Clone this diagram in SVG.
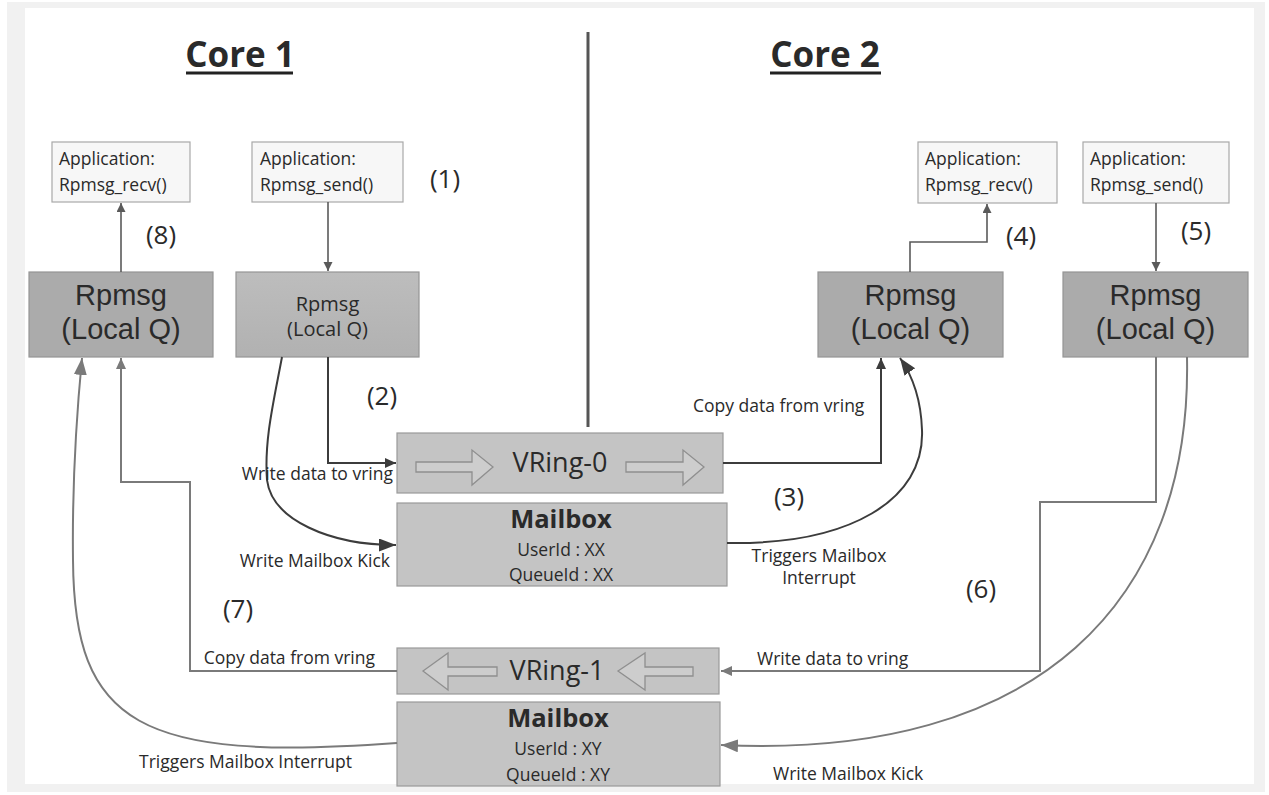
<svg xmlns="http://www.w3.org/2000/svg" width="1269" height="795" viewBox="0 0 1269 795">
<style>
text{font-family:"Open Sans","Liberation Sans",Arial,sans-serif;fill:#2a2a2a}
.app{fill:#f7f7f7;stroke:#a8a8a8;stroke-width:1.2}
.rp{fill:#ababab;stroke:#959595;stroke-width:1.2}
.rp2{fill:url(#g2);stroke:#959595;stroke-width:1.2}
.vr{fill:#c4c4c4;stroke:#9a9a9a;stroke-width:1.2}
.ba{fill:#cdcdcd;stroke:#8f8f8f;stroke-width:1.3}
.at{font-size:17.5px}
.big{font-family:"Liberation Sans",Arial,sans-serif;font-size:29px;text-anchor:middle}
.sm{font-size:20px;text-anchor:middle}
.lbl{font-size:17.5px}
.num{font-size:26px;text-anchor:middle}
.cd{fill:none;stroke:#3c3c3c;stroke-width:2}
.cg{fill:none;stroke:#7a7a7a;stroke-width:2}
.ca{fill:none;stroke:#5a5a5a;stroke-width:1.6}
</style>
<defs>
<linearGradient id="g2" x1="0" y1="0" x2="0" y2="1"><stop offset="0" stop-color="#bdbdbd"/><stop offset="1" stop-color="#b1b1b1"/></linearGradient>
<marker id="aS" markerUnits="userSpaceOnUse" markerWidth="10" markerHeight="10" refX="9" refY="4.5" orient="auto"><path d="M0,0 L9,4.5 L0,9 z" fill="#5a5a5a"/></marker>
<marker id="aD" markerUnits="userSpaceOnUse" markerWidth="12" markerHeight="12" refX="11" refY="5" orient="auto"><path d="M0,0 L11,5 L0,10 z" fill="#3c3c3c"/></marker>
<marker id="aG" markerUnits="userSpaceOnUse" markerWidth="12" markerHeight="12" refX="11" refY="5" orient="auto"><path d="M0,0 L11,5 L0,10 z" fill="#7a7a7a"/></marker>
<marker id="aBD" markerUnits="userSpaceOnUse" markerWidth="18" markerHeight="14" refX="17" refY="6.5" orient="auto"><path d="M0,0 L17,6.5 L0,13 z" fill="#3c3c3c"/></marker>
<marker id="aBG" markerUnits="userSpaceOnUse" markerWidth="18" markerHeight="14" refX="17" refY="6.5" orient="auto"><path d="M0,0 L17,6.5 L0,13 z" fill="#7a7a7a"/></marker>
</defs>
<rect width="1269" height="795" fill="#ffffff"/>
<g id="frame" fill="#f1f1f1">
<rect x="7" y="2" width="1258" height="6"/>
<rect x="7" y="2" width="18" height="790"/>
<rect x="1254" y="2" width="11" height="790"/>
<rect x="7" y="784" width="1258" height="8"/>
</g>
<g id="titles">
<text x="240" y="67" font-size="35" font-weight="bold" text-anchor="middle" fill="#111">Core 1</text>
<rect x="186" y="71.5" width="107" height="3" fill="#222"/>
<text x="825" y="67" font-size="35" font-weight="bold" text-anchor="middle" fill="#111">Core 2</text>
<rect x="770" y="71.5" width="111" height="3" fill="#222"/>
<line x1="588" y1="32" x2="588" y2="427" stroke="#555" stroke-width="3"/>
</g>
<g id="app1"><rect class="app" x="52" y="142" width="138" height="60"/><text class="at" x="59" y="165">Application:</text><text class="at" x="59" y="191">Rpmsg_recv()</text></g>
<g id="app2"><rect class="app" x="252" y="142" width="151" height="60"/><text class="at" x="260" y="165">Application:</text><text class="at" x="260" y="191">Rpmsg_send()</text></g>
<g id="app3"><rect class="app" x="918" y="142" width="139" height="61"/><text class="at" x="925" y="165">Application:</text><text class="at" x="925" y="191">Rpmsg_recv()</text></g>
<g id="app4"><rect class="app" x="1083" y="142" width="146" height="61"/><text class="at" x="1090" y="165">Application:</text><text class="at" x="1090" y="191">Rpmsg_send()</text></g>
<g id="rpmsg1"><rect class="rp" x="29" y="272" width="184" height="85"/><text class="big" x="121" y="305">Rpmsg</text><text class="big" x="121" y="339">(Local Q)</text></g>
<g id="rpmsg2"><rect class="rp2" x="236" y="272" width="183" height="85"/><text class="sm" x="327.5" y="311">Rpmsg</text><text class="sm" x="327.5" y="336">(Local Q)</text></g>
<g id="rpmsg3"><rect class="rp" x="818" y="272" width="185" height="85"/><text class="big" x="910.5" y="305">Rpmsg</text><text class="big" x="910.5" y="339">(Local Q)</text></g>
<g id="rpmsg4"><rect class="rp" x="1063" y="272" width="185" height="85"/><text class="big" x="1155.5" y="305">Rpmsg</text><text class="big" x="1155.5" y="339">(Local Q)</text></g>
<g id="vring0"><rect class="vr" x="397" y="433" width="326" height="60"/>
<path class="ba" d="M416,462 H472 V450 L493,467 L472,485 V472 H416 Z"/>
<path class="ba" d="M626,462 H683 V450 L704,467 L683,485 V472 H626 Z"/>
<text x="560" y="472" font-size="27" text-anchor="middle">VRing-0</text></g>
<g id="mailbox0"><rect class="vr" x="397" y="503" width="330" height="83"/>
<text x="561" y="528" font-size="25.5" font-weight="bold" text-anchor="middle" fill="#111">Mailbox</text>
<text x="561" y="556" font-size="17.5" text-anchor="middle">UserId : XX</text>
<text x="561" y="581" font-size="17.5" text-anchor="middle">QueueId : XX</text></g>
<g id="vring1"><rect class="vr" x="397" y="648" width="322" height="46"/>
<path class="ba" d="M423,671 L448,653 V667 H497 V676 H448 V690 Z"/>
<path class="ba" d="M618,671 L645,653 V667 H693 V676 H645 V690 Z"/>
<text x="557" y="680" font-size="27" text-anchor="middle">VRing-1</text></g>
<g id="mailbox1"><rect class="vr" x="397" y="702" width="323" height="84"/>
<text x="558" y="727" font-size="25.5" font-weight="bold" text-anchor="middle" fill="#111">Mailbox</text>
<text x="558" y="755" font-size="17.5" text-anchor="middle">UserId : XY</text>
<text x="558" y="781" font-size="17.5" text-anchor="middle">QueueId : XY</text></g>
<g id="connectors">
<path class="ca" d="M121,272 V203" marker-end="url(#aS)"/>
<path class="ca" d="M328,202 V271" marker-end="url(#aS)"/>
<path class="ca" d="M910,272 V242 H987 V204" marker-end="url(#aS)"/>
<path class="ca" d="M1156,203 V271" marker-end="url(#aS)"/>
<path class="cd" d="M328,357 V463 H396" marker-end="url(#aD)"/>
<path class="cd" d="M282,357 C274,400 264,440 267,480 C272,520 330,545 396,545" marker-end="url(#aBD)"/>
<path class="cd" d="M723,463 H881 V358" marker-end="url(#aD)"/>
<path class="cd" d="M727,543 C850,545 925,500 922,430 C921,400 912,375 900,358" marker-end="url(#aBD)"/>
<path class="cg" d="M1156,357 V502 H1040 V671 H721" marker-end="url(#aG)"/>
<path class="cg" d="M1187,357 C1192,600 1040,760 721,745" marker-end="url(#aBG)"/>
<path class="cg" d="M397,671 H190 V482 H121 V358" marker-end="url(#aG)"/>
<path class="cg" d="M397,743 C140,762 74,725 73,560 C72,480 77,410 82,358" marker-end="url(#aBG)"/>
</g>
<g id="labels">
<text class="lbl" x="393" y="480" text-anchor="end">Write data to vring</text>
<text class="lbl" x="390" y="567" text-anchor="end">Write Mailbox Kick</text>
<text class="lbl" x="375" y="664" text-anchor="end">Copy data from vring</text>
<text class="lbl" x="352" y="768" text-anchor="end">Triggers Mailbox Interrupt</text>
<text class="lbl" x="693" y="412">Copy data from vring</text>
<text class="lbl" x="819" y="562" text-anchor="middle">Triggers Mailbox</text>
<text class="lbl" x="819" y="584" text-anchor="middle">Interrupt</text>
<text class="lbl" x="757" y="665">Write data to vring</text>
<text class="lbl" x="773" y="780">Write Mailbox Kick</text>
<text class="num" x="445" y="188">(1)</text>
<text class="num" x="382" y="405">(2)</text>
<text class="num" x="789" y="506">(3)</text>
<text class="num" x="1021" y="245">(4)</text>
<text class="num" x="1196" y="240">(5)</text>
<text class="num" x="981" y="598">(6)</text>
<text class="num" x="238" y="618">(7)</text>
<text class="num" x="161" y="244">(8)</text>
</g>
</svg>
